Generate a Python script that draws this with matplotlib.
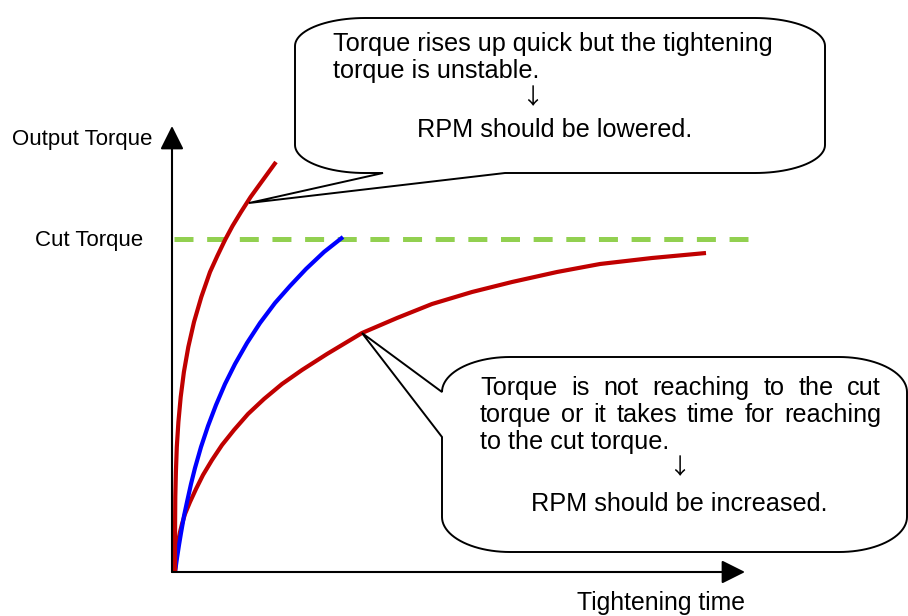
"""Torque vs tightening time sketch: two callouts on RPM setting."""

import matplotlib
import numpy as np

matplotlib.use("Agg")
import matplotlib.pyplot as plt
from matplotlib.patches import PathPatch
from matplotlib.path import Path

plt.rcParams["font.family"] = ["Liberation Sans", "DejaVu Sans"]

# data units: x = tightening time, y = output torque (origin at the axes corner)
CUT_TORQUE = 333
CUT_X = [2, 576]

fast_x = [3, 3.0, 3.1, 3.3, 3.9, 4.8, 6.4, 8.7, 11.9, 16.3, 22, 29.3, 38,
          45.3, 53, 60.5, 69, 78.6, 88, 96, 104]
fast_y = [0, 25, 50, 75, 100, 125, 150, 175, 200, 225, 250, 275, 300,
          316, 332, 346, 360, 375, 388, 399, 410]

mid_x = [3, 5, 7, 9, 12, 15, 19, 23, 29, 36, 44, 53, 63, 75, 88, 103,
         118, 134, 152, 171]
mid_y = [0, 14, 27, 39, 56, 70, 88, 104, 125, 146, 167, 188, 208, 229,
         249, 269, 286, 303, 320, 335]

slow_x = [3, 4, 5, 6, 8, 10, 13, 18, 24, 31, 40, 50, 62, 76, 92, 110,
          130, 155, 190, 225, 260, 300, 340, 385, 428, 480, 534]
slow_y = [0, 12, 22, 30, 40, 48, 58, 70, 83, 97, 112, 127, 142, 158, 173,
          188, 202, 218, 239, 254, 268, 280, 290, 300, 308, 314, 319]

X_LABEL = "Tightening time"
Y_LABEL = "Output Torque"
CUT_LABEL = "Cut Torque"

TOP_LINES = ["Torque rises up quick but the tightening", "torque is unstable."]
TOP_RESULT = "RPM should be lowered."
LOW_LINES = ["Torque is not reaching to the cut",
             "torque or it takes time for reaching",
             "to the cut torque."]
LOW_RESULT = "RPM should be increased."
DOWN = "\u2193"

RED = "#C00000"
BLUE = "#0000FF"
GREEN = "#92D050"
FS = 18.2


def arc(cx, cy, rx, ry, a0, a1, n=24):
    t = np.radians(np.linspace(a0, a1, n))
    return list(zip(cx + rx * np.cos(t), cy + ry * np.sin(t)))


def bubble(x0, x1, y0, y1, rx, ry, side, a, b, tip):
    """Rounded rectangle with elliptical corners and a wedge tail."""
    pts = arc(x0 + rx, y0 + ry, rx, ry, 180, 270)
    if side == "bottom":
        pts += [(a, y0), tip, (b, y0)]
    pts += arc(x1 - rx, y0 + ry, rx, ry, 270, 360)
    pts += arc(x1 - rx, y1 - ry, rx, ry, 0, 90)
    pts += arc(x0 + rx, y1 - ry, rx, ry, 90, 180)
    if side == "left":
        pts += [(x0, a), tip, (x0, b)]
    pts.append(pts[0])
    return Path(pts, closed=True)


def justify(ax, words, x0, x1, y):
    texts = [ax.text(0, y, w, fontsize=FS, va="baseline") for w in words]
    ax.figure.canvas.draw()
    r = ax.figure.canvas.get_renderer()
    inv = ax.transData.inverted()
    widths = []
    for t in texts:
        bb = t.get_window_extent(r)
        p0, p1 = inv.transform([[bb.x0, bb.y0], [bb.x1, bb.y1]])
        widths.append(p1[0] - p0[0])
    gap = (x1 - x0 - sum(widths)) / (len(words) - 1)
    x = x0
    for t, w in zip(texts, widths):
        t.set_x(x)
        x += w + gap


def main() -> None:
    fig = plt.figure(figsize=(9.08, 6.16), dpi=100)
    ax = fig.add_axes([0, 0, 1, 1])
    ax.set_xlim(-172, 736)
    ax.set_ylim(-44, 572)
    ax.axis("off")

    # axes with arrow heads
    arrow = dict(arrowstyle="-|>,head_length=0.9,head_width=0.45",
                 color="black", lw=1.5, shrinkA=0, shrinkB=0, mutation_scale=16)
    ax.annotate("", xy=(0, 446), xytext=(0, 0), arrowprops=arrow)
    ax.annotate("", xy=(573, 0), xytext=(0, 0), arrowprops=arrow)

    ax.plot(CUT_X, [CUT_TORQUE, CUT_TORQUE], color=GREEN, lw=3.6,
            linestyle=(0, (3.8, 2.73)), solid_capstyle="butt")
    for xs, ys, col in [(slow_x, slow_y, RED), (mid_x, mid_y, BLUE),
                        (fast_x, fast_y, RED)]:
        ax.plot(xs, ys, color=col, lw=3, solid_capstyle="butt",
                solid_joinstyle="round", zorder=3)

    ax.text(-20, 427, Y_LABEL, fontsize=16, ha="right", va="baseline")
    ax.text(-29, 326, CUT_LABEL, fontsize=16, ha="right", va="baseline")
    ax.text(573, -38, X_LABEL, fontsize=17.8, ha="right", va="baseline")

    top = bubble(123, 653, 399, 554, 70, 28, "bottom", 211, 333, (77, 369))
    ax.add_patch(PathPatch(top, facecolor="white", edgecolor="black", lw=1.4, zorder=4))
    low = bubble(270, 735, 20, 215, 68, 35, "left", 180, 135, (190, 239))
    ax.add_patch(PathPatch(low, facecolor="white", edgecolor="black", lw=1.4, zorder=4))

    for i, line in enumerate(TOP_LINES):
        ax.text(161, 521 - 27 * i, line, fontsize=FS, va="baseline")
    ax.text(360, 474, DOWN, fontsize=16, ha="center", va="center",
            family=["Noto Sans CJK JP", "DejaVu Sans"])
    ax.text(383, 435, TOP_RESULT, fontsize=FS, ha="center", va="baseline")

    for i, line in enumerate(LOW_LINES[:2]):
        justify(ax, line.split(), 308, 709, 177 - 27 * i)
    ax.text(308, 123, LOW_LINES[2], fontsize=FS, va="baseline")
    ax.text(507, 104, DOWN, fontsize=16, ha="center", va="center",
            family=["Noto Sans CJK JP", "DejaVu Sans"])
    ax.text(507, 61, LOW_RESULT, fontsize=FS, ha="center", va="baseline")

    for t in ax.texts:
        t.set_zorder(5)

    fig.savefig("out.png", dpi=100, facecolor="white")


if __name__ == "__main__":
    main()
